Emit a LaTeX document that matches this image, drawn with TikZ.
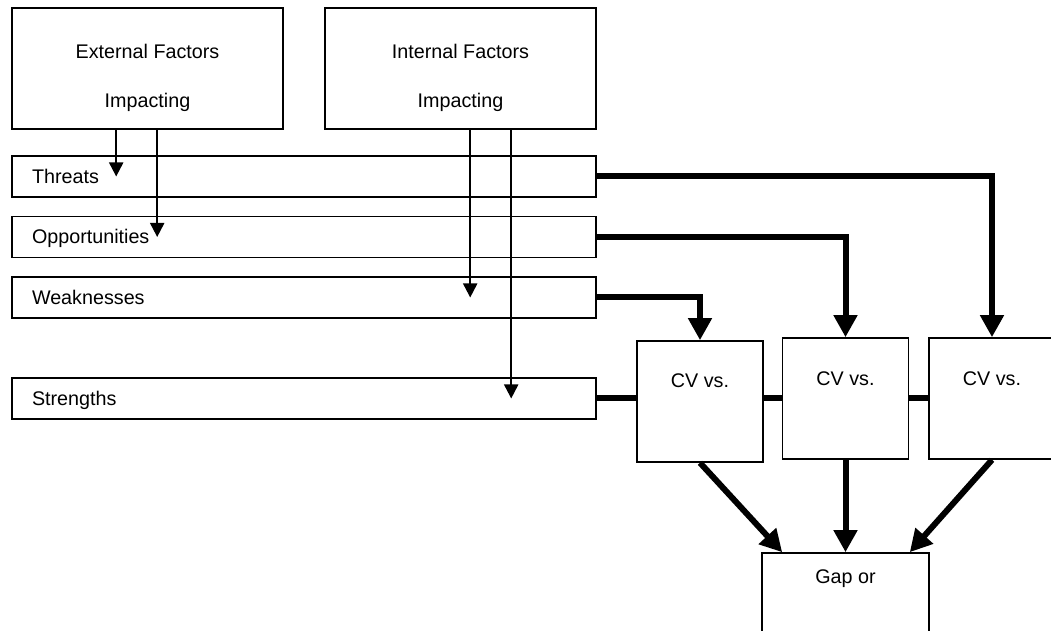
\documentclass[tikz,border=0pt]{standalone}
\usepackage{fontspec}
\setmainfont{Liberation Sans}
\usetikzlibrary{arrows.meta,calc}

\tikzset{every picture/.style={line width=0.75pt}}

\begin{document}
\begin{tikzpicture}[
            x=0.75pt,
            y=0.75pt,
            yscale=-1,
            xscale=1,
            every node/.style={text=black,font=\fontsize{14.8}{18}\selectfont},
            box/.style={draw=black,line width=1.2pt,rectangle,inner sep=0pt},
            factorbox/.style={box,minimum width=203.25pt,minimum height=90.75pt},
            rowbox/.style={box,minimum width=438pt,minimum height=30.75pt,text width=408pt,align=left,text height=10.5pt,text depth=0pt},
            cvbox/.style={box,minimum width=94.5pt,minimum height=90.75pt},
            gapbox/.style={box,minimum width=125.25pt,minimum height=90.75pt},
            thinarr/.style={draw=black,line width=1.5pt,-{Triangle[length=10.5pt,width=10.5pt]}},
            thickline/.style={draw=black,line width=4.5pt},
            thickarr/.style={thickline,-{Triangle[length=16.5pt,width=17pt]}}
        ]
            \useasboundingbox (0,0) rectangle (1051,631);
            \node[factorbox] (ext) at (147.5,68.5) {};
            \node[factorbox] (int) at (460.5,68.5) {};
            \node[anchor=base] (extA) at (147.5,59) {External Factors};
            \node[anchor=base] (extB) at (147.5,108) {Impacting};
            \node[anchor=base] (intA) at (460.5,59) {Internal Factors};
            \node[anchor=base] (intB) at (460.5,108) {Impacting};
            \node[rowbox] (thr) at (304,176.5) {Threats};
            \node[rowbox] (opp) at (304,237) {Opportunities};
            \node[rowbox] (weak) at (304,297.5) {Weaknesses};
            \node[rowbox] (str) at (304,398.5) {Strengths};
            \node[cvbox] (cv1) at (700,401.5) {};
            \node[cvbox] (cv2) at (845.5,398.5) {};
            \node[cvbox] (cv3) at (992,398.5) {};
            \node[gapbox] (gap) at (845.5,613.5) {};
            \node[anchor=base] (cv1t) at ($(cv1.north)+(0,47)$) {CV vs.};
            \node[anchor=base] (cv2t) at ($(cv2.north)+(0,48)$) {CV vs.};
            \node[anchor=base] (cv3t) at ($(cv3.north)+(0,48)$) {CV vs.};
            \node[anchor=base] (gapt) at ($(gap.north)+(0,31)$) {Gap or};
            \coordinate (e1) at ($(ext.south west)+(105,0)$);
            \coordinate (e2) at ($(ext.south west)+(146,0)$);
            \coordinate (i1) at ($(int.south west)+(146,0)$);
            \coordinate (i2) at ($(int.south west)+(187,0)$);
            \draw[thinarr] (e1) -- (e1 |- thr.center);
            \draw[thinarr] (e2) -- (e2 |- opp.center);
            \draw[thinarr] (i1) -- (i1 |- weak.center);
            \draw[thinarr] (i2) -- (i2 |- str.center);
            \draw[thickarr] (thr.east) -| (cv3.north);
            \draw[thickarr] (opp.east) -| (cv2.north);
            \draw[thickarr] (weak.east) -| (cv1.north);
            \draw[thickline] (str.east) -- (str.east -| cv1.west);
            \draw[thickline] (cv1.east |- str.east) -- (str.east -| cv2.west);
            \draw[thickline] (cv2.east |- str.east) -- (str.east -| cv3.west);
            \draw[thickarr] (cv1.south) -- ($(gap.north west)+(21,0)$);
            \draw[thickarr] (cv2.south) -- (gap.north);
            \draw[thickarr] (cv3.south) -- ($(gap.north east)+(-20,0)$);
        \end{tikzpicture}
\end{document}
